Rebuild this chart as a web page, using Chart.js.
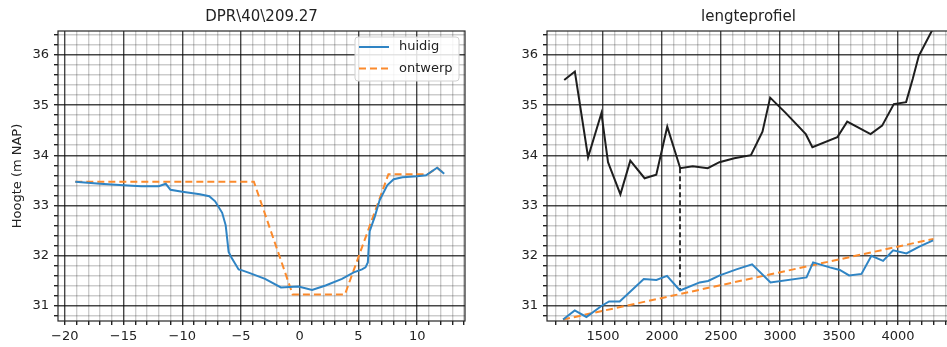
<!DOCTYPE html>
<html>
<head>
<meta charset="utf-8">
<script src="https://cdn.jsdelivr.net/npm/chart.js@4.4.1/dist/chart.umd.min.js"></script>
<style>
  html, body { margin: 0; padding: 0; background: #fff; overflow: hidden; }
  #wrap { position: relative; width: 947px; height: 347px; overflow: hidden; }
  canvas { position: absolute; top: 0; }
  #dwars { left: 0; }
  #lengte { left: 480px; }
</style>
</head>
<body>
<div id="wrap">
  <canvas id="dwars" width="480" height="347"></canvas>
  <canvas id="lengte" width="480" height="347"></canvas>
</div>
<script>
// dwarsprofiel DPR\40\209.27
const huidigX = [-19.1, -17, -15, -13.5, -12.0, -11.4, -11.0, -10.0, -8.5, -7.7, -7.2, -6.6, -6.3, -6.05, -5.8, -5.2, -4.9, -4.3, -2.95, -1.6, -0.9, -0.1, 1.05, 2.2, 3.6, 4.6, 5.3, 5.6, 5.8, 5.95, 6.4, 6.8, 7.45, 8.0, 8.75, 10.0, 10.75, 11.7, 12.3];
const huidigY = [33.47, 33.43, 33.40, 33.38, 33.38, 33.43, 33.31, 33.27, 33.22, 33.18, 33.08, 32.85, 32.6, 32.07, 31.95, 31.72, 31.70, 31.65, 31.53, 31.36, 31.37, 31.38, 31.31, 31.40, 31.53, 31.66, 31.72, 31.76, 31.86, 32.48, 32.78, 33.10, 33.40, 33.52, 33.56, 33.58, 33.60, 33.75, 33.63];
const ontwerpX = [-19.1, -3.9, -0.6, 3.85, 7.55, 10.9, 11.7, 12.3];
const ontwerpY = [33.47, 33.47, 31.22, 31.22, 33.62, 33.62, 33.75, 33.63];

// lengteprofiel
const bovenX = [1171, 1261, 1373, 1486, 1542, 1647, 1731, 1852, 1951, 2044, 2154, 2260, 2387, 2486, 2612, 2753, 2851, 2916, 3049, 3218, 3274, 3485, 3569, 3767, 3865, 3964, 4068, 4124, 4175, 4290];
const bovenY = [35.50, 35.67, 33.96, 34.84, 33.86, 33.22, 33.89, 33.54, 33.61, 34.57, 33.74, 33.78, 33.74, 33.86, 33.94, 34.0, 34.47, 35.15, 34.84, 34.42, 34.16, 34.36, 34.67, 34.42, 34.59, 35.02, 35.06, 35.52, 35.98, 36.5];
const bodemX = [1161, 1260, 1359, 1486, 1551, 1641, 1845, 1952, 2042, 2152, 2319, 2390, 2489, 2630, 2763, 2919, 3224, 3280, 3421, 3506, 3585, 3690, 3774, 3873, 3958, 4071, 4184, 4297];
const bodemY = [30.72, 30.90, 30.77, 30.99, 31.08, 31.08, 31.53, 31.51, 31.59, 31.30, 31.46, 31.49, 31.60, 31.72, 31.82, 31.46, 31.56, 31.86, 31.76, 31.71, 31.60, 31.63, 31.99, 31.89, 32.10, 32.04, 32.18, 32.30];
const leggerX = [1161, 4300];
const leggerY = [30.72, 32.33];
const profielX = [2152, 2152];
const profielY = [33.74, 31.30];

const yLimits = [30.69, 36.48];
const dwarsLimits = [-20.575, 14.07];
const lengteLimits = [1025, 4440];

const BLUE = '#2f84c4';
const ORANGE = '#fb8a2c';
const BLACK = '#1e1e1e';

Chart.defaults.font.family = 'DejaVu Sans';
Chart.defaults.font.size = 13;
Chart.defaults.color = '#222';
Chart.defaults.animation = false;

const pts = (xs, ys) => xs.map((x, i) => ({ x, y: ys[i] }));
const fmt = v => (v < 0 ? '\u2212' : '') + Math.abs(Math.round(v));
const isWhole = (v, step) => Math.abs(v / step - Math.round(v / step)) < 1e-6;

function grid(step) {
  return {
    color: c => isWhole(c.tick.value, step) ? 'rgba(0,0,0,0.72)' : 'rgba(0,0,0,0.2)',
    lineWidth: 1.4,
    tickColor: '#222',
    tickLength: 4,
  };
}

const frame = {
  id: 'frame',
  afterDatasetsDraw(chart) {
    const { ctx, chartArea: a } = chart;
    ctx.save();
    ctx.strokeStyle = '#262626';
    ctx.lineWidth = 1.2;
    ctx.strokeRect(a.left, a.top, a.right - a.left, a.bottom - a.top);
    ctx.restore();
  }
};

const boxLegend = {
  id: 'boxLegend',
  afterDraw(chart, args, opts) {
    if (!opts.show) return;
    const { ctx, chartArea: a } = chart;
    const x = a.right - 110, y = a.top + 6, w = 104, h = 44;
    ctx.save();
    ctx.fillStyle = 'rgba(255,255,255,0.85)';
    ctx.strokeStyle = '#d0d0d0';
    ctx.lineWidth = 1;
    ctx.beginPath();
    ctx.roundRect(x, y, w, h, 3);
    ctx.fill();
    ctx.stroke();
    chart.data.datasets.forEach((ds, i) => {
      const ly = y + 10 + i * 21.5;
      ctx.setLineDash(ds.borderDash || []);
      ctx.strokeStyle = ds.borderColor;
      ctx.lineWidth = ds.borderWidth;
      ctx.beginPath();
      ctx.moveTo(x + 4, ly);
      ctx.lineTo(x + 34, ly);
      ctx.stroke();
      ctx.setLineDash([]);
      ctx.fillStyle = '#222';
      ctx.font = '13px "DejaVu Sans"';
      ctx.textBaseline = 'middle';
      ctx.fillText(ds.label, x + 44, ly);
    });
    ctx.restore();
  }
};

function line(label, data, color, dash, width) {
  return {
    label, data,
    borderColor: color, backgroundColor: color,
    borderWidth: width || 2, borderDash: dash || [],
    pointRadius: 0, tension: 0, fill: false,
  };
}

function options(title, xLim, xStep, xMajor, yWidth, yTitle, padRight, legend) {
  return {
    responsive: false,
    layout: { padding: { left: 0, right: padRight, top: 0, bottom: 0 } },
    plugins: {
      legend: { display: false },
      tooltip: { enabled: false },
      title: {
        display: true, text: title, fullSize: false,
        font: { size: 15, weight: 'normal', lineHeight: 1.2 },
        padding: { top: 8, bottom: 5 }, color: '#222',
      },
      boxLegend: { show: legend },
    },
    scales: {
      x: {
        type: 'linear', min: xLim[0], max: xLim[1],
        grid: grid(xMajor),
        border: { display: false },
        ticks: {
          stepSize: xStep, includeBounds: false, autoSkip: false,
          maxRotation: 0, minRotation: 0, padding: 4,
          callback: v => isWhole(v, xMajor) ? fmt(v) : '',
        },
        afterFit: s => { s.height = 26; },
      },
      y: {
        type: 'linear', min: yLimits[0], max: yLimits[1],
        grid: grid(1),
        border: { display: false },
        title: yTitle ? { display: true, text: yTitle, padding: { top: 10, bottom: 0 }, font: { size: 13 } } : { display: false },
        ticks: {
          stepSize: 0.2, includeBounds: false, autoSkip: false, padding: 5,
          callback: v => isWhole(v, 1) ? fmt(v) : '',
        },
        afterFit: s => { s.width = yWidth; },
      },
    },
  };
}

new Chart(document.getElementById('dwars'), {
  type: 'line',
  data: {
    datasets: [
      line('huidig', pts(huidigX, huidigY), BLUE),
      line('ontwerp', pts(ontwerpX, ontwerpY), ORANGE, [7, 4]),
    ],
  },
  options: options('DPR\\40\\209.27', dwarsLimits, 1, 5, 58, 'Hoogte (m NAP)', 15, true),
  plugins: [frame, boxLegend],
});

new Chart(document.getElementById('lengte'), {
  type: 'line',
  data: {
    datasets: [
      line('maaiveld', pts(bovenX, bovenY), BLACK),
      line('huidig', pts(bodemX, bodemY), BLUE),
      line('ontwerp', pts(leggerX, leggerY), ORANGE, [7, 4]),
      line('profiel', pts(profielX, profielY), '#333', [5, 3]),
    ],
  },
  options: options('lengteprofiel', lengteLimits, 100, 500, 67, null, 10, false),
  plugins: [frame, boxLegend],
});
</script>
</body>
</html>
